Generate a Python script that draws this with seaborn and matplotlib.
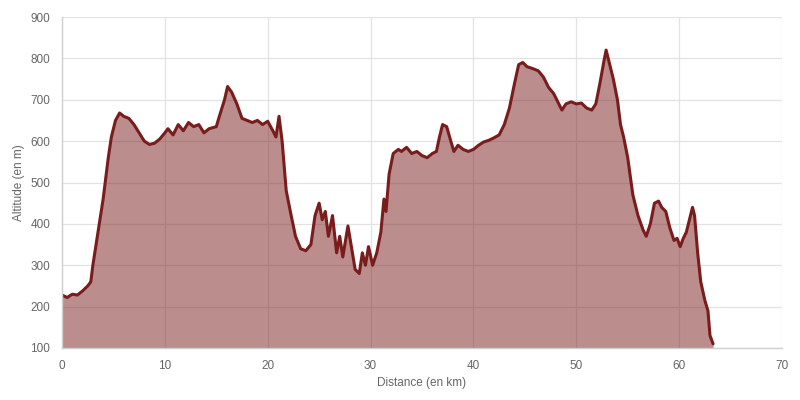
import numpy as np
import pandas as pd
import matplotlib
matplotlib.use("Agg")
import matplotlib.pyplot as plt
import seaborn as sns

# --- Données du profil ---
distance_km = [
    0, 0.5, 1, 1.5, 2, 2.5, 2.8, 3.0, 3.5, 4, 4.5, 4.8, 5.2, 5.6, 6, 6.5, 7, 7.5,
    8, 8.5, 9, 9.5, 10, 10.3, 10.8, 11.3, 11.8, 12.3, 12.8, 13.3, 13.8, 14.3, 15,
    15.3, 15.8, 16.1, 16.5, 17, 17.5, 18, 18.5, 19, 19.5, 20, 20.5, 20.8, 21.1,
    21.4, 21.8, 22.2, 22.7, 23.2, 23.7, 24.2, 24.6, 25.0, 25.3, 25.6, 25.9, 26.3,
    26.7, 27.0, 27.3, 27.8, 28.1, 28.5, 28.9, 29.2, 29.5, 29.8, 30.2, 30.6, 31.0,
    31.3, 31.5, 31.8, 32.2, 32.7, 33.0, 33.5, 34.0, 34.5, 35.0, 35.5, 36.0, 36.4,
    36.7, 37.0, 37.4, 37.8, 38.1, 38.5, 39.0, 39.5, 40, 40.5, 41, 41.5, 42, 42.5,
    43, 43.5, 44, 44.4, 44.8, 45.2, 45.8, 46.3, 46.8, 47.3, 47.8, 48.3, 48.6, 49,
    49.5, 50, 50.5, 51, 51.5, 51.9, 52.3, 52.7, 52.9, 53.2, 53.6, 54.0, 54.3,
    54.6, 55.0, 55.5, 56, 56.5, 56.8, 57.2, 57.6, 58.0, 58.3, 58.7, 59.1, 59.5,
    59.8, 60.1, 60.4, 60.7, 61.0, 61.3, 61.5, 61.8, 62.1, 62.5, 62.8, 63.0, 63.3,
]
altitude_m = [
    228, 222, 230, 228, 238, 250, 260, 300, 380, 460, 560, 610, 650, 668, 660, 655,
    640, 620, 600, 592, 595, 605, 620, 630, 615, 640, 625, 645, 635, 640, 620, 630,
    635, 660, 700, 732, 718, 690, 655, 650, 645, 650, 640, 648, 625, 610, 660,
    600, 480, 430, 370, 340, 335, 350, 420, 450, 410, 430, 370, 420,
    330, 370, 320, 395, 350, 290, 280, 330, 300, 345, 300, 330, 380,
    460, 430, 520, 570, 580, 575, 585, 570, 575, 565, 560, 570, 575,
    610, 640, 635, 600, 575, 590, 580, 575, 580, 590, 598, 602, 608, 615,
    640, 680, 740, 785, 790, 780, 775, 770, 755, 730, 715, 690, 675, 690,
    695, 690, 692, 680, 675, 690, 740, 795, 820, 790, 750, 700, 640,
    610, 560, 470, 420, 385, 370, 400, 450, 455, 440, 430, 390, 360,
    365, 345, 365, 380, 410, 440, 420, 330, 260, 215, 190, 130, 110,
]

df = pd.DataFrame({"distance": distance_km, "altitude": altitude_m})

line_color = "#7b1c1c"
y_min = 100

sns.set_style("whitegrid")
plt.rcParams["font.family"] = ["Liberation Sans", "DejaVu Sans"]

fig = plt.figure(figsize=(8, 4), dpi=100)
ax = fig.add_axes([0.0775, 0.13, 0.9, 0.8275])

ax.fill_between(df["distance"], df["altitude"], y_min, color=line_color, alpha=0.5, linewidth=0)
sns.lineplot(data=df, x="distance", y="altitude", color=line_color, linewidth=2.2, ax=ax)

ax.set_xlim(0, 70)
ax.set_ylim(100, 900)
ax.set_xticks(range(0, 71, 10))
ax.set_yticks(range(100, 901, 100))
ax.set_axisbelow(True)
ax.grid(True, color="#e3e3e3", linewidth=0.9)

for side in ["top", "right"]:
    ax.spines[side].set_visible(False)
for side in ["left", "bottom"]:
    ax.spines[side].set_color("#d0d0d0")
    ax.spines[side].set_linewidth(1)

ax.tick_params(axis="both", colors="#666666", labelsize=8.5, length=5, width=0.9)
ax.tick_params(axis="both", color="#e3e3e3")
ax.set_xlabel("Distance (en km)", fontsize=8.5, color="#666666", labelpad=4)
ax.set_ylabel("Altitude (en m)", fontsize=8.5, color="#666666", labelpad=4)

fig.savefig("out.png", dpi=100)
